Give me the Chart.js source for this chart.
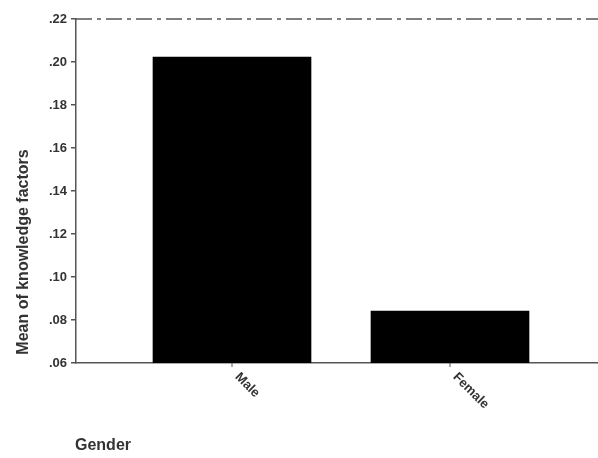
<!DOCTYPE html>
<html>
<head>
<meta charset="utf-8">
<script src="https://cdn.jsdelivr.net/npm/chart.js@4"></script>
<style>
  body { margin: 0; background: #fff; }
  canvas { display: block; }
</style>
</head>
<body>
<canvas id="chart" width="598" height="458"></canvas>
<script>
// data
const categories = ['Male', 'Female'];
const positions = [1, 2];
const means = [0.2023, 0.0842];
const yTicks = [0.06, 0.08, 0.10, 0.12, 0.14, 0.16, 0.18, 0.20, 0.22];

const fontFamily = '"Liberation Sans", Arial, sans-serif';
const textColor = '#333';

// format like ".20" (no leading zero)
function fmt(v) {
    return v.toFixed(2).replace(/^0/, '');
}

// extra drawing: dash-dot top line, rotated category labels, titles
const decor = {
    id: 'decor',
    afterDraw(chart) {
        const ctx = chart.ctx;
        const area = chart.chartArea;
        const x = chart.scales.x;
        const y = chart.scales.y;
        ctx.save();

        // dash-dot line at the top of the value range
        const topY = y.getPixelForValue(0.22);
        ctx.strokeStyle = '#555';
        ctx.lineWidth = 1.5;
        ctx.setLineDash([16, 5, 4, 5]);
        ctx.beginPath();
        ctx.moveTo(area.left, topY);
        ctx.lineTo(area.right, topY);
        ctx.stroke();
        ctx.setLineDash([]);

        // small ticks + rotated labels under the categories
        ctx.fillStyle = textColor;
        ctx.font = 'bold 13px ' + fontFamily;
        categories.forEach((c, i) => {
            const px = x.getPixelForValue(positions[i]);
            ctx.strokeStyle = '#555';
            ctx.lineWidth = 1;
            ctx.beginPath();
            ctx.moveTo(px, area.bottom);
            ctx.lineTo(px, area.bottom + 4);
            ctx.stroke();
            ctx.save();
            ctx.translate(px + 5, area.bottom + 12);
            ctx.rotate(Math.PI / 4);
            ctx.textAlign = 'left';
            ctx.textBaseline = 'middle';
            ctx.fillText(c, 0, 0);
            ctx.restore();
        });

        // y axis title
        ctx.save();
        ctx.translate(24, 252);
        ctx.rotate(-Math.PI / 2);
        ctx.textAlign = 'center';
        ctx.textBaseline = 'middle';
        ctx.font = 'bold 16px ' + fontFamily;
        ctx.fillText('Mean of knowledge factors', 0, 0);
        ctx.restore();

        // x axis title
        ctx.font = 'bold 16px ' + fontFamily;
        ctx.textAlign = 'left';
        ctx.textBaseline = 'middle';
        ctx.fillText('Gender', 75, 446);

        ctx.restore();
    }
};

const ctx = document.getElementById('chart').getContext('2d');
const chart = new Chart(ctx, {
    type: 'bar',
    data: {
        datasets: [{
            label: 'Mean of knowledge factors',
            data: positions.map((p, i) => ({ x: p, y: means[i] })),
            backgroundColor: '#000',
            borderWidth: 0,
            barThickness: 158,
        }],
    },
    options: {
        responsive: false,
        animation: false,
        layout: { padding: { top: 19, left: 0, right: 0, bottom: 0 } },
        plugins: {
            legend: { display: false },
            tooltip: { enabled: false },
        },
        scales: {
            x: {
                type: 'linear',
                offset: false,
                min: 1 - 156 / 218,
                max: 1 + 366 / 218,
                ticks: { display: false },
                grid: { display: false },
                border: { display: true, color: '#555', width: 1.5 },
                afterFit(scale) { scale.height = 95; },
            },
            y: {
                min: 0.06,
                max: 0.22,
                afterBuildTicks(scale) {
                    scale.ticks = yTicks.map(v => ({ value: v }));
                },
                ticks: {
                    color: textColor,
                    font: { family: fontFamily, size: 13, weight: 'bold' },
                    padding: 4,
                    callback: v => fmt(v),
                },
                grid: {
                    drawOnChartArea: false,
                    drawTicks: true,
                    tickLength: 5,
                    color: '#555',
                    lineWidth: 1.5,
                },
                border: { display: true, color: '#555', width: 1.5 },
                afterFit(scale) { scale.width = 76; },
            },
        },
    },
    plugins: [decor],
});
</script>
</body>
</html>
